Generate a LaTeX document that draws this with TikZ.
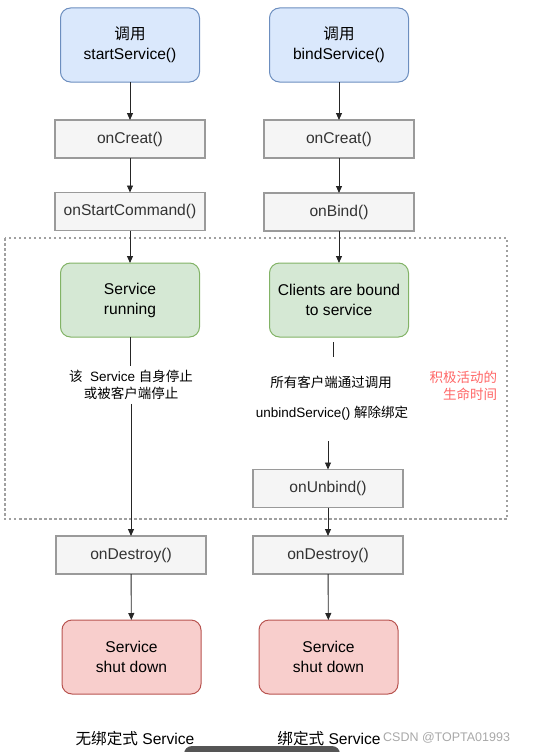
\documentclass[tikz,border=0pt]{standalone}
\usepackage{fontspec}
\setmainfont{Liberation Sans}
\newfontfamily\cjk{Noto Sans CJK SC}
\usetikzlibrary{arrows.meta}
\definecolor{bluefill}{HTML}{DAE8FC}
\definecolor{bluedraw}{HTML}{6C8EBF}
\definecolor{greenfill}{HTML}{D5E8D4}
\definecolor{greendraw}{HTML}{82B366}
\definecolor{redfill}{HTML}{F8CECC}
\definecolor{reddraw}{HTML}{B85450}
\definecolor{grayfill}{HTML}{F5F5F5}
\definecolor{graydraw}{HTML}{9A9A9A}
\definecolor{graytext}{HTML}{333333}
\definecolor{notered}{HTML}{FF6666}
\definecolor{dashcol}{HTML}{A0A0A0}
\definecolor{wmcol}{HTML}{A8A8A8}
\definecolor{barcol}{HTML}{555555}
\newcommand{\zh}[1]{{\cjk #1}}
\begin{document}
\begin{tikzpicture}[x=1pt,y=-1pt,
  every node/.style={inner sep=0pt, outer sep=0pt},
  txt/.style={font=\fontsize{15.6}{20}\selectfont, align=center},
  small/.style={font=\fontsize{13.5}{17}\selectfont, align=center},
  rbox/.style={txt, rounded corners=10pt, line width=1pt, minimum width=139pt, minimum height=74pt},
  bluebox/.style={rbox, draw=bluedraw, fill=bluefill},
  greenbox/.style={rbox, draw=greendraw, fill=greenfill},
  redbox/.style={rbox, draw=reddraw, fill=redfill},
  graybox/.style={txt, draw=graydraw, fill=grayfill, text=graytext, line width=1.2pt, minimum width=150pt, minimum height=38pt},
  arr/.style={-{Triangle[length=7pt,width=6pt]}, line width=0.9pt, black!85},
  ln/.style={line width=0.9pt, black!85}
]
\useasboundingbox (0,0) rectangle (547,752);

% dashed region
\draw[dashcol, line width=1.2pt, dash pattern=on 2.5pt off 2.5pt] (5,238) rectangle (507,519);

% left column
\node[bluebox] (b1) at (130,45) {\zh{调用}\\startService()};
\node[graybox] (c1) at (130,139) {onCreat()};
\node[graybox] (s1) at (130,211.5) {onStartCommand()};
\node[greenbox] (g1) at (130,300) {Service\\running};
\node[small, inner sep=4pt] (t1) at (131,385) {\zh{该}\ \ Service \zh{自身停止}\\\zh{或被客户端停止}};
\node[graybox] (e1) at (131,555) {onDestroy()};
\node[redbox] (r1) at (131.5,657) {Service\\shut down};
\node[txt] (l1) at (135,739) {\zh{无绑定式} Service};

% right column
\node[bluebox] (b2) at (339,45) {\zh{调用}\\bindService()};
\node[graybox] (c2) at (339,139) {onCreat()};
\node[graybox] (d2) at (339,212) {onBind()};
\node[greenbox] (g2) at (339,300) {Clients are bound\\to service};
\coordinate (k1) at (333,342);
\coordinate (k2) at (333,357);
\node[small] (t2a) at (331,382) {\zh{所有客户端通过调用}};
\node[small] (t2b) at (332,413) {unbindService() \zh{解除绑定}};
\coordinate (k3) at (328,441);
\node[graybox] (u2) at (328,488.5) {onUnbind()};
\node[graybox] (e2) at (328,555) {onDestroy()};
\node[redbox] (r2) at (328.5,657) {Service\\shut down};
\node[txt] (l2) at (329,739) {\zh{绑定式} Service};

% note
\node[small, text=notered, align=right, anchor=east] (note) at (497,386) {\zh{积极活动的}\\\zh{生命时间}};

% watermark
\node[font=\fontsize{12.5}{15}\selectfont, text=wmcol, anchor=east] (wm) at (510,738) {CSDN @TOPTA01993};

% connectors left
\draw[arr] (b1) -- (c1);
\draw[arr] (c1) -- (s1);
\draw[arr] (s1) -- (g1);
\draw[ln] (g1.south) -- (t1.north -| g1.south);
\draw[arr] (t1.south) -- (e1.north);
\draw[arr] (e1) -- (r1);

% connectors right
\draw[arr] (b2) -- (c2);
\draw[arr] (c2) -- (d2);
\draw[arr] (d2) -- (g2);
\draw[ln] (k1) -- (k2);
\draw[arr] (k3) -- (u2.north);
\draw[arr] (u2) -- (e2);
\draw[arr] (e2) -- (r2);

% bottom bar artifact
\begin{scope}
\clip (0,0) rectangle (547,752);
\fill[barcol, rounded corners=8pt] (184,746) rectangle (340,770);
\end{scope}
\end{tikzpicture}
\end{document}
